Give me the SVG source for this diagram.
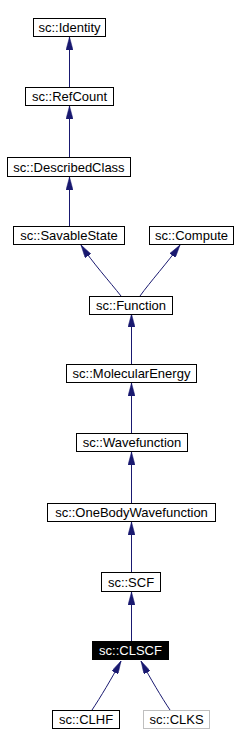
<svg xmlns="http://www.w3.org/2000/svg" width="240" height="748" viewBox="0 0 240 748">
<style>
.n rect{fill:#fff;stroke:#000;stroke-width:1}
.n text{font-family:"Liberation Sans",Arial,sans-serif;font-size:13px;text-anchor:middle;fill:#000}
#CLSCF rect{fill:#000;stroke:#000}
#CLSCF text{fill:#fff}
#CLKS rect{stroke:#bfbfbf}
.e path{fill:none;stroke:#191970;stroke-width:1;marker-end:url(#ah)}
</style>
<defs>
<marker id="ah" viewBox="0 0 13 7" refX="13" refY="3.5" markerWidth="13" markerHeight="7" markerUnits="userSpaceOnUse" orient="auto">
<path d="M0,0 L13,3.5 L0,7 Z" fill="#191970" stroke="#191970" stroke-width="0.5"/>
</marker>
</defs>
<rect width="240" height="748" fill="#fff"/>
<g class="e">
<path d="M69.5,87 L69.5,37"/>
<path d="M69.5,157 L69.5,106"/>
<path d="M69.5,226 L69.5,177"/>
<path d="M121,296 C110,282 92,262 81,245"/>
<path d="M140,296 C150,282 168,262 180,245"/>
<path d="M131.5,364 L131.5,314"/>
<path d="M131.5,433 L131.5,383"/>
<path d="M131.5,503 L131.5,452"/>
<path d="M131.5,572 L131.5,522"/>
<path d="M131.5,641 L131.5,592"/>
<path d="M92,710 C100,698 112,678 121,661"/>
<path d="M170,710 C162,698 150,678 141,661"/>
</g>
<g id="Identity" class="n"><rect x="33.5" y="18.5" width="72" height="18"/><text x="69.5" y="32">sc::Identity</text></g>
<g id="RefCount" class="n"><rect x="25.5" y="87.5" width="88" height="18"/><text x="69.5" y="101">sc::RefCount</text></g>
<g id="DescribedClass" class="n"><rect x="7.5" y="157.5" width="123" height="19"/><text x="69" y="171.5">sc::DescribedClass</text></g>
<g id="SavableState" class="n"><rect x="13.5" y="226.5" width="111" height="18"/><text x="69" y="240">sc::SavableState</text></g>
<g id="Compute" class="n"><rect x="149.5" y="226.5" width="84" height="18"/><text x="191.5" y="240">sc::Compute</text></g>
<g id="Function" class="n"><rect x="89.5" y="296.5" width="83" height="18"/><text x="131" y="310">sc::Function</text></g>
<g id="MolecularEnergy" class="n"><rect x="66.5" y="364.5" width="130" height="18"/><text x="131.5" y="378">sc::MolecularEnergy</text></g>
<g id="Wavefunction" class="n"><rect x="76.5" y="433.5" width="111" height="18"/><text x="132" y="447">sc::Wavefunction</text></g>
<g id="OneBodyWavefunction" class="n"><rect x="47.5" y="503.5" width="168" height="18"/><text x="131.5" y="517">sc::OneBodyWavefunction</text></g>
<g id="SCF" class="n"><rect x="101.5" y="572.5" width="59" height="19"/><text x="131" y="586.5">sc::SCF</text></g>
<g id="CLSCF" class="n"><rect x="92.5" y="641.5" width="76" height="18"/><text x="130.5" y="655">sc::CLSCF</text></g>
<g id="CLHF" class="n"><rect x="52.5" y="710.5" width="67" height="18"/><text x="86" y="724">sc::CLHF</text></g>
<g id="CLKS" class="n"><rect x="143.5" y="710.5" width="66" height="18"/><text x="176.5" y="724">sc::CLKS</text></g>
</svg>
